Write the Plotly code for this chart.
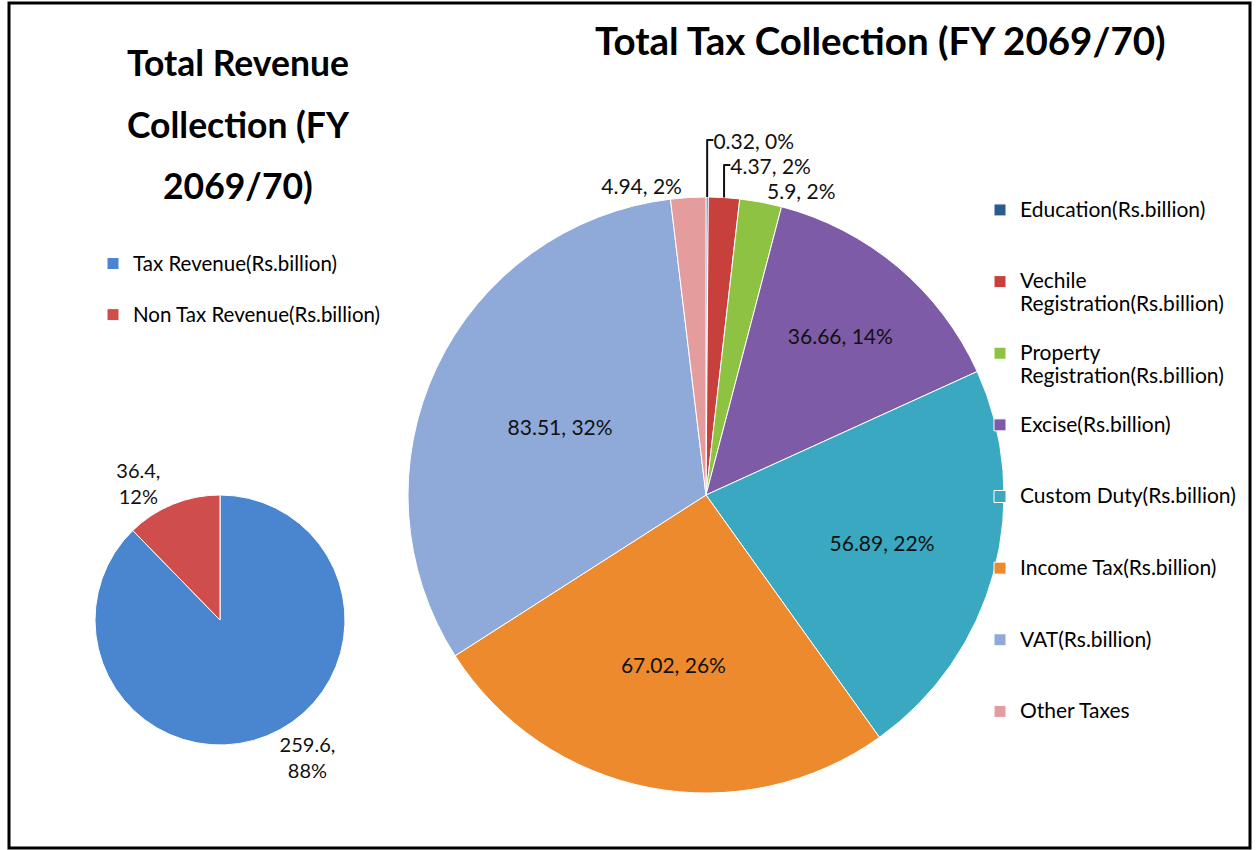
import plotly.graph_objects as go

# ---- data ----
rev_labels = ["Tax Revenue(Rs.billion)", "Non Tax Revenue(Rs.billion)"]
rev_values = [259.6, 36.4]
rev_colors = ["#4A86CF", "#CF4D4A"]

tax_labels = ["Education(Rs.billion)", "Vechile Registration(Rs.billion)",
              "Property Registration(Rs.billion)", "Excise(Rs.billion)",
              "Custom Duty(Rs.billion)", "Income Tax(Rs.billion)",
              "VAT(Rs.billion)", "Other Taxes"]
tax_values = [0.32, 4.37, 5.9, 36.66, 56.89, 67.02, 83.51, 4.94]
tax_colors = ["#2B5A8F", "#C8403C", "#8DC243", "#7E5BA6",
              "#3AA8C1", "#EE8A2E", "#8FAAD8", "#E49C9C"]
tax_textpos = ["outside", "outside", "outside", "inside",
               "inside", "inside", "inside", "outside"]

FONT = "Lato"
W, H = 1258, 850


def wrap_legend(name, last, pad_lines, px):
    if name.endswith("Registration(Rs.billion)"):
        first, rest = name.split(" ", 1)
        parts = [first, rest]
    else:
        parts = [name]
    txt = "<br>".join(f"<span style='font-size:{px}px'>{p}</span>" for p in parts)
    if not last:
        txt += "<br> " * (pad_lines - len(parts))
    return txt


rev_legend = [wrap_legend(n, i == len(rev_labels) - 1, 2, 20.5) for i, n in enumerate(rev_labels)]
tax_legend = [wrap_legend(n, i == len(tax_labels) - 1, 3, 21) for i, n in enumerate(tax_labels)]

fig = go.Figure()


def px_dom(cx, cy, d):
    return dict(x=[(cx - d / 2) / W, (cx + d / 2) / W],
                y=[1 - (cy + d / 2) / H, 1 - (cy - d / 2) / H])


fig.add_trace(go.Pie(
    labels=rev_legend, values=rev_values, sort=False, direction="clockwise",
    rotation=0, marker=dict(colors=rev_colors, line=dict(color="#FFFFFF", width=1)),
    texttemplate="%{value},<br>%{percent:.0%}", textposition="outside",
    textfont=dict(family=FONT, size=20, color="#111111"),
    domain=px_dom(220, 620, 250), legend="legend", showlegend=True,
    hoverinfo="skip",
))

fig.add_trace(go.Pie(
    labels=tax_legend, values=tax_values, sort=False, direction="clockwise",
    rotation=0, marker=dict(colors=tax_colors, line=dict(color="#FFFFFF", width=1)),
    texttemplate="%{value}, %{percent:.0%}", textposition=tax_textpos,
    insidetextorientation="horizontal",
    textfont=dict(family=FONT, size=21, color="#111111"),
    domain=px_dom(706, 495, 596), legend="legend2", showlegend=True,
    hoverinfo="skip",
))

annotations = [
    dict(text="<b>Total Tax Collection (FY 2069/70)</b>", x=880 / W, y=1 - 40 / H,
         font=dict(family=FONT, size=38.5, color="#000000")),
    dict(text="<b>Total Revenue</b>", x=238 / W, y=1 - 62 / H,
         font=dict(family=FONT, size=35.5, color="#000000")),
    dict(text="<b>Collection (FY</b>", x=238 / W, y=1 - 124 / H,
         font=dict(family=FONT, size=35.5, color="#000000")),
    dict(text="<b>2069/70)</b>", x=238 / W, y=1 - 186 / H,
         font=dict(family=FONT, size=35.5, color="#000000")),
]
for a in annotations:
    a.update(xref="paper", yref="paper", showarrow=False, xanchor="center", yanchor="middle")

fig.update_layout(
    width=W, height=H, autosize=False,
    margin=dict(l=0, r=0, t=0, b=0),
    paper_bgcolor="#FFFFFF", plot_bgcolor="#FFFFFF",
    font=dict(family=FONT, size=18, color="#000000"),
    annotations=annotations,
    legend=dict(x=93 / W, y=1 - 245 / H, xanchor="left", yanchor="top",
                font=dict(family=FONT, size=18.5, color="#000000"),
                valign="top", bgcolor="rgba(0,0,0,0)"),
    legend2=dict(x=980 / W, y=1 - 192 / H, xanchor="left", yanchor="top",
                 font=dict(family=FONT, size=17.6, color="#000000"),
                 valign="top", bgcolor="rgba(0,0,0,0)"),
    shapes=[dict(type="rect", xref="paper", yref="paper",
                 x0=9 / W, x1=1250 / W, y0=1 - 848 / H, y1=1 - 3 / H,
                 line=dict(color="#000000", width=3))],
)

fig.write_html("out.html", config={"displayModeBar": False},
               post_script="document.body.style.margin='0';")
